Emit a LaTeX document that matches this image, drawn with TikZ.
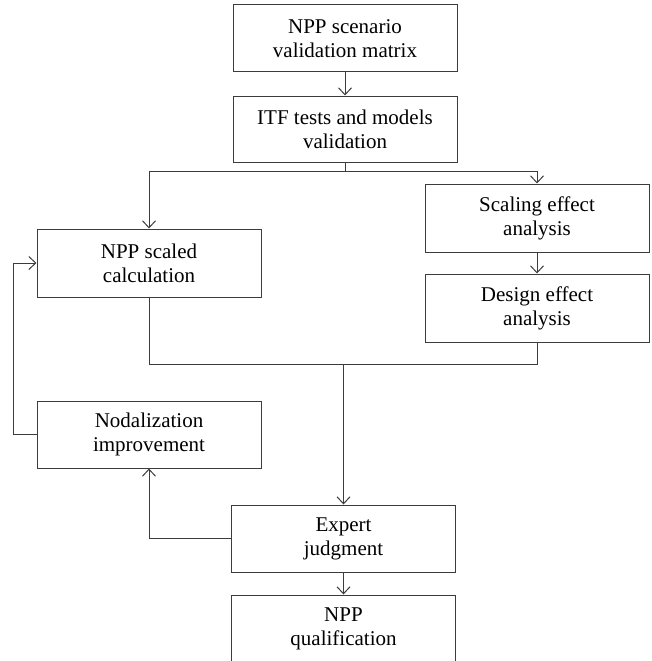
\documentclass[tikz,border=0pt]{standalone}
\usepackage{fontspec}
\setmainfont{Liberation Serif}
\usetikzlibrary{arrows.meta}
\definecolor{lc}{HTML}{3C3C3C}
\begin{document}
\begin{tikzpicture}[x=1pt,y=-1pt,
  box/.style={draw=lc,line width=1pt,inner sep=0pt,align=center,
    minimum width=224pt,font=\fontsize{21}{24}\selectfont,text=black},
  arr/.style={draw=lc,line width=1pt,-{Straight Barb[length=7pt,width=13pt,line width=1pt]}},
  ln/.style={draw=lc,line width=1pt}]
\useasboundingbox (0,0) rectangle (651,661);
\clip (0,0) rectangle (651,661);
\node[box,minimum height=67pt] (b1) at (345,38.5) {NPP scenario\\validation matrix};
\node[box,minimum height=66pt] (b2) at (345,129) {ITF tests and models\\validation};
\node[box,minimum height=68pt] (calc) at (149,263) {NPP scaled\\calculation};
\node[box,minimum height=68pt] (scal) at (537,218) {Scaling effect\\analysis};
\node[box,minimum height=68pt] (des) at (537,308) {Design effect\\analysis};
\node[box,minimum height=67pt] (nod) at (149,434.5) {Nodalization\\improvement};
\node[box,minimum height=67pt] (exp) at (343.5,538.5) {Expert\\judgment};
\node[box,minimum height=67pt] (qual) at (343.5,628.5) {NPP\\qualification};
\coordinate (sp) at (345,171);
\coordinate (mg) at (343.5,364);
\draw[arr] (b1.south) -- (b2.north);
\draw[ln] (b2.south) -- (sp);
\draw[arr] (sp) -| (calc.north);
\draw[arr] (sp) -| (scal.north);
\draw[arr] (scal.south) -- (des.north);
\draw[ln] (calc.south) |- (mg);
\draw[ln] (des.south) |- (mg);
\draw[arr] (mg) -- (exp.north);
\draw[arr] (exp.south) -- (qual.north);
\draw[arr] (exp.west) -| (nod.south);
\draw[arr] (nod.west) -- ++(-23.5,0) |- (calc.west);
\end{tikzpicture}
\end{document}
